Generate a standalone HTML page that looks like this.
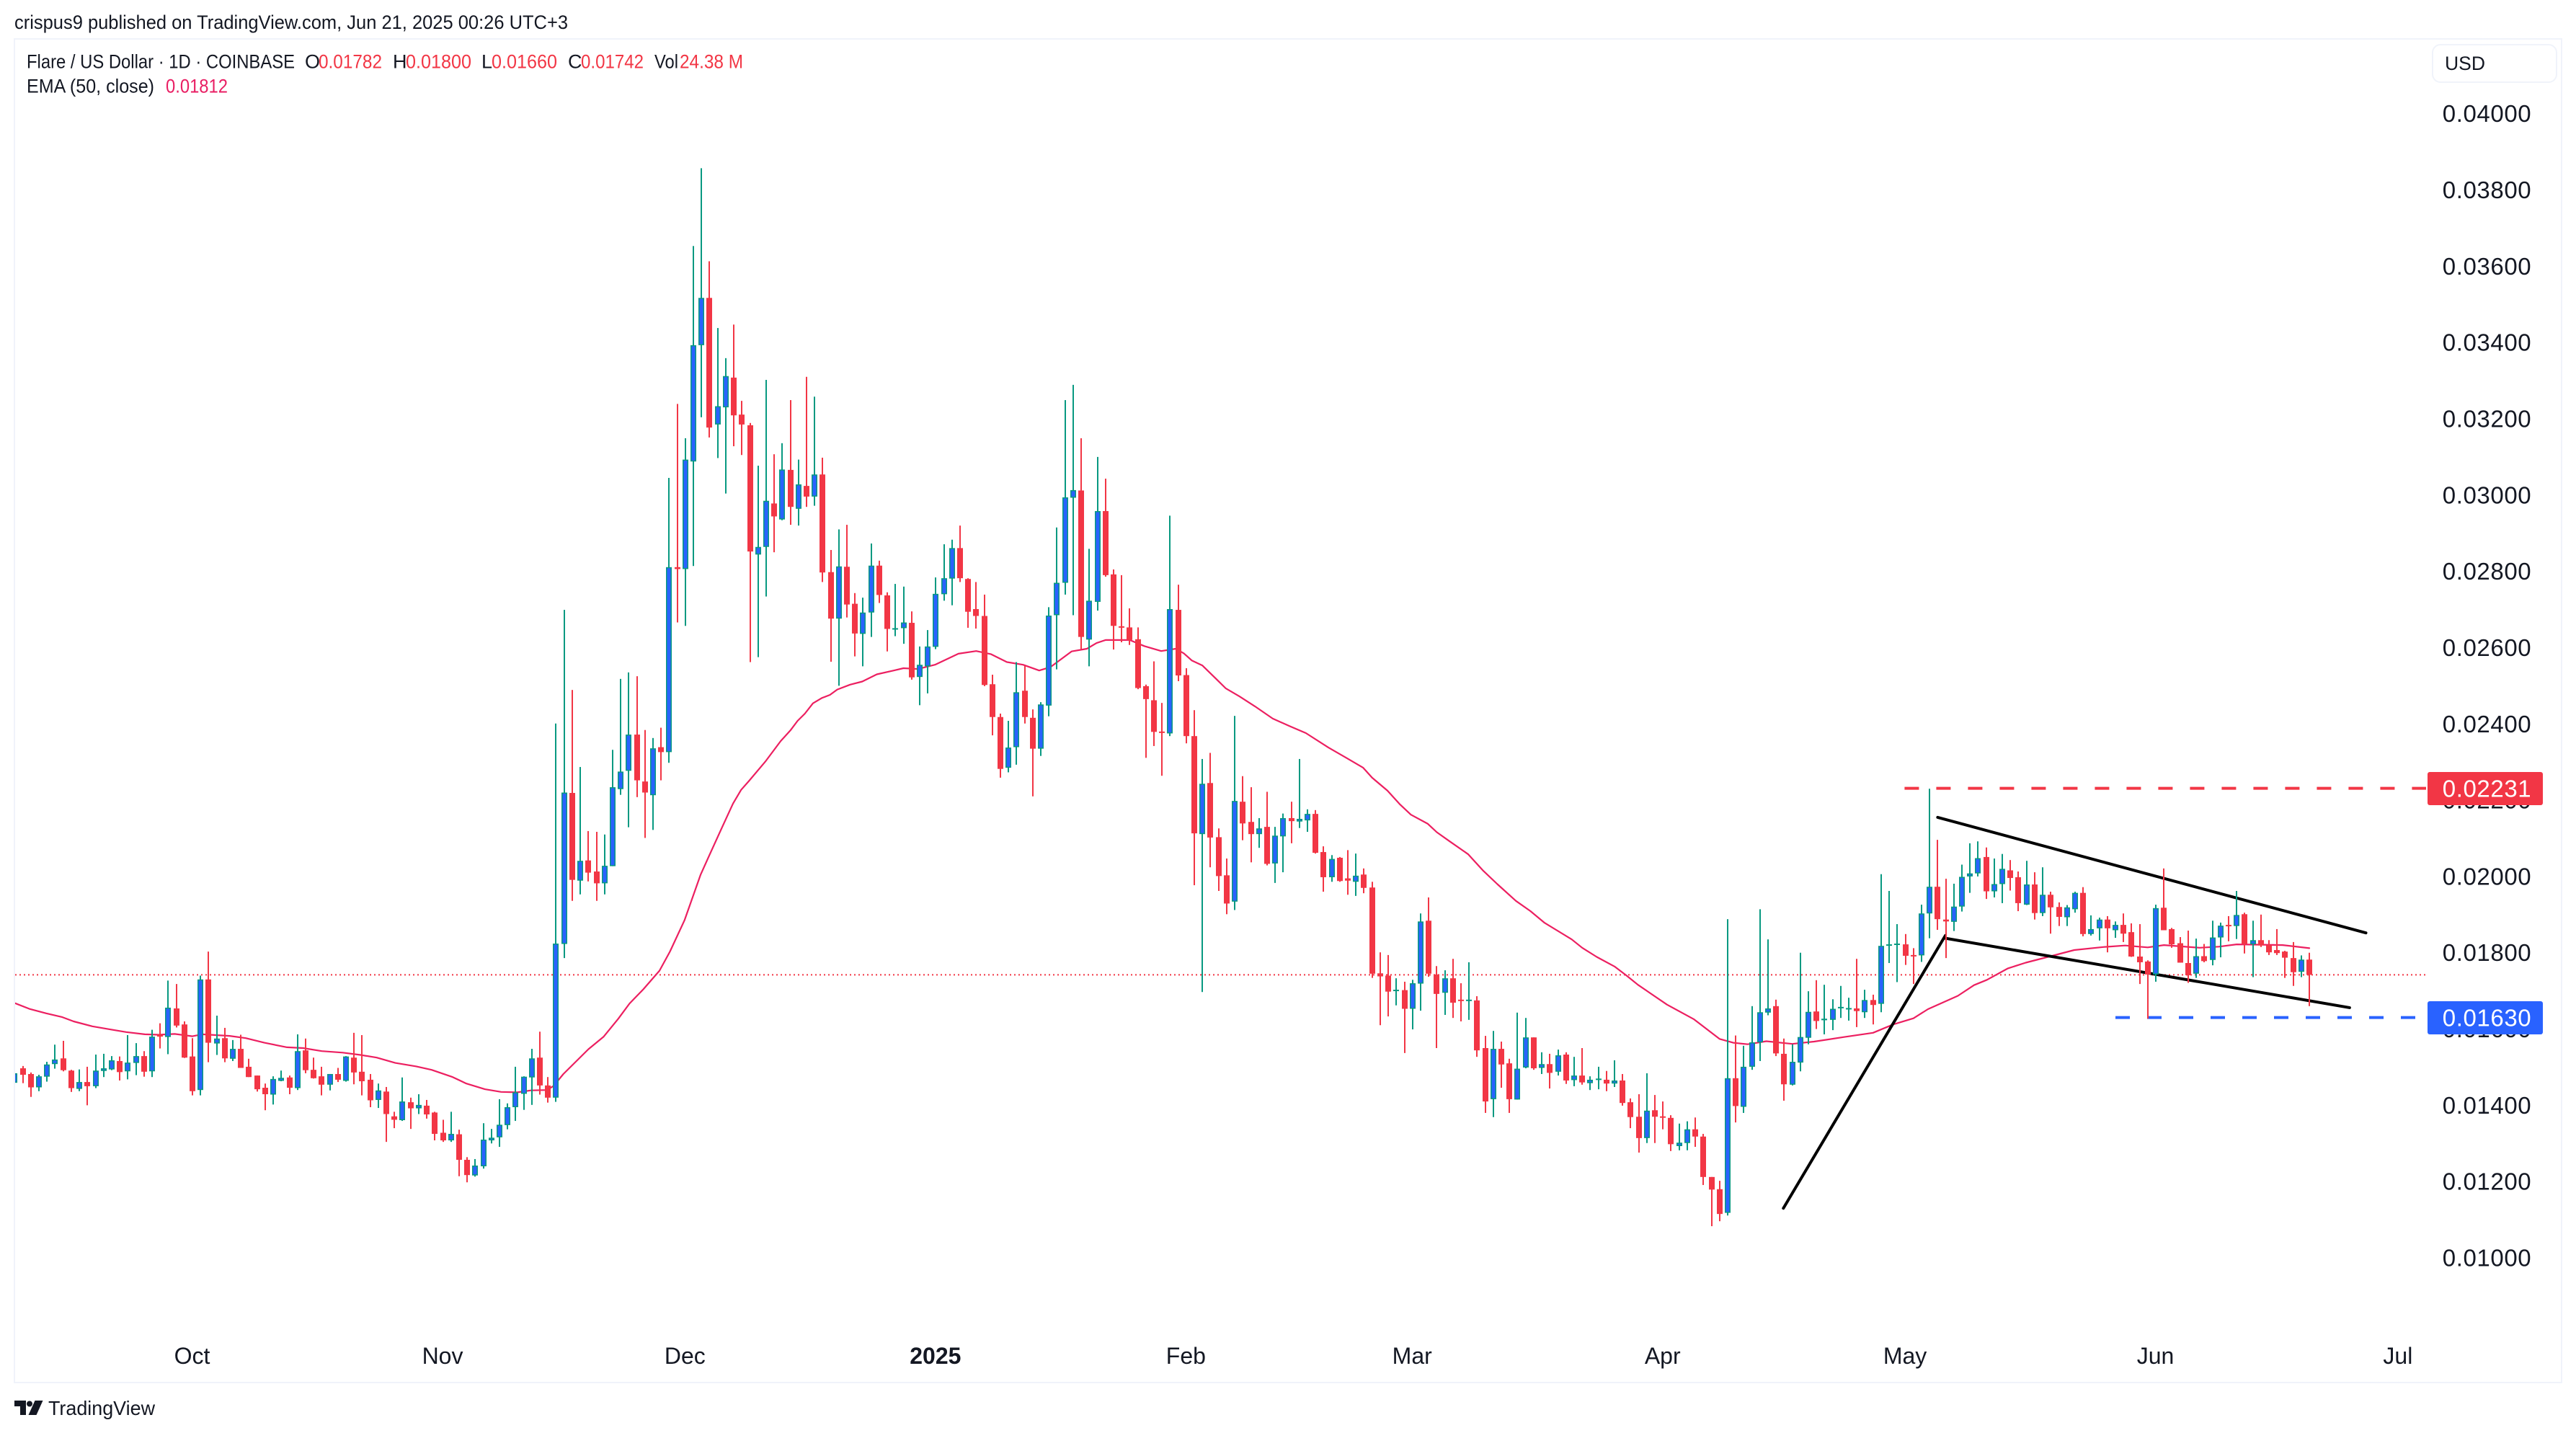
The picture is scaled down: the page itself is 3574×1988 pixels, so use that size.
<!DOCTYPE html>
<html lang="en">
<head>
<meta charset="utf-8">
<title>Flare / US Dollar 1D chart</title>
<style>
html,body{margin:0;padding:0;background:#fff;width:3574px;height:1988px;overflow:hidden}
svg{display:block}
text{font-family:"Liberation Sans",sans-serif;fill:#131722}
</style>
</head>
<body>
<svg id="chart" xmlns="http://www.w3.org/2000/svg" width="3574" height="1988" viewBox="0 0 3574 1988">
  <rect x="0" y="0" width="3574" height="1988" fill="#ffffff"/>
  <text x="20" y="40" font-size="27" textLength="768" lengthAdjust="spacingAndGlyphs">crispus9 published on TradingView.com, Jun 21, 2025 00:26 UTC+3</text>
  <rect x="20" y="54" width="3534" height="1864" fill="none" stroke="#f0f3fa" stroke-width="2"/>
  <clipPath id="pane-clip"><rect x="21" y="55" width="3532" height="1862"/></clipPath>

  <g id="price-axis"></g>
  <g id="time-axis"></g>

  <g clip-path="url(#pane-clip)">
    <g id="last-price-layer"></g>
    <g id="ema-layer"></g>
    <g id="drawing-layer"></g>
    <g id="candle-layer"></g>
  </g>

  <g>
    <text x="37" y="94.500" font-size="27" textLength="372" lengthAdjust="spacingAndGlyphs">Flare / US Dollar · 1D · COINBASE</text>
    <text x="423" y="94.500" font-size="27">O</text>
    <text x="442" y="94.500" font-size="27" style="fill:#f23645" textLength="88" lengthAdjust="spacingAndGlyphs">0.01782</text>
    <text x="545" y="94.500" font-size="27">H</text>
    <text x="563" y="94.500" font-size="27" style="fill:#f23645" textLength="91" lengthAdjust="spacingAndGlyphs">0.01800</text>
    <text x="668" y="94.500" font-size="27">L</text>
    <text x="682" y="94.500" font-size="27" style="fill:#f23645" textLength="91" lengthAdjust="spacingAndGlyphs">0.01660</text>
    <text x="788" y="94.500" font-size="27">C</text>
    <text x="806" y="94.500" font-size="27" style="fill:#f23645" textLength="87" lengthAdjust="spacingAndGlyphs">0.01742</text>
    <text x="908" y="94.500" font-size="27" textLength="33" lengthAdjust="spacingAndGlyphs">Vol</text>
    <text x="943" y="94.500" font-size="27" style="fill:#f23645" textLength="88" lengthAdjust="spacingAndGlyphs">24.38 M</text>
    <text x="37" y="128.500" font-size="27" textLength="177" lengthAdjust="spacingAndGlyphs">EMA (50, close)</text>
    <text x="230" y="128.500" font-size="27" style="fill:#e91e63" textLength="86" lengthAdjust="spacingAndGlyphs">0.01812</text>
  </g>

  <g>
    <rect x="3375" y="62" width="172" height="52" rx="11" fill="#ffffff" stroke="#f0f3fa" stroke-width="2"/>
    <text x="3392" y="97" font-size="26.5">USD</text>
  </g>

  <g>
    <path fill="#131722" d="M20 1943h16v20h-8v-12h-8z M59.500 1943h-11l-9 20h11z"/>
    <circle cx="41" cy="1947.500" r="4" fill="#131722"/>
    <text x="67" y="1963" font-size="28" font-weight="400" textLength="148" lengthAdjust="spacingAndGlyphs">TradingView</text>
  </g>
</svg>

<script>
/* Prices are stored in units of 0.00001 USD. Index 0 = Sep 9 2024, one entry per day. */
const opens = [
1459,1497,1482,1447,1475,1508,1523,1491,1443,1461,
1450,1490,1494,1516,1489,1511,1529,1489,1586,1579,
1654,1612,1528,1440,1730,1562,1576,1522,1548,1501,
1478,1446,1428,1464,1473,1445,1544,1493,1476,1454,
1482,1464,1525,1488,1467,1414,1436,1371,1361,1408,
1392,1399,1381,1328,1308,1324,1257,1216,1240,1308,
1316,1348,1395,1430,1473,1525,1452,1420,1823,2219,
1989,2042,2013,1982,2027,2229,2277,2372,2249,2213,
2339,2326,2811,2806,3088,3393,3517,3185,3230,3308,
3211,3183,2844,2864,2978,2936,3066,2964,3024,2996,
3054,2798,2676,2812,2715,2636,2692,2815,2737,2649,
2651,2665,2523,2551,2602,2740,2781,2861,2780,2701,
2683,2504,2418,2285,2339,2487,2416,2335,2448,2685,
2770,2993,3012,2621,2720,2958,2792,2656,2653,2622,
2499,2462,2380,2375,2699,2528,2368,2111,2245,2103,
2003,1934,2196,2143,2111,2130,2034,2105,2153,2144,
2147,2164,2064,1998,2049,1995,1986,2005,1971,1746,
1740,1701,1702,1653,1719,1884,1743,1695,1733,1677,
1674,1675,1550,1416,1548,1510,1415,1499,1578,1498,
1508,1488,1533,1466,1478,1458,1468,1467,1457,1465,
1408,1370,1314,1387,1371,1367,1293,1301,1337,1318,
1212,1180,1118,1471,1396,1501,1565,1643,1660,1535,
1454,1512,1577,1646,1623,1624,1655,1653,1654,1644,
1676,1666,1819,1821,1822,1794,1793,1903,1973,1887,
1881,1921,2000,2008,2051,1961,1980,2016,1998,1926,
1979,1904,1952,1920,1893,1914,1957,1849,1864,1887,
1859,1873,1854,1790,1777,1743,1918,1862,1825,1773,
1745,1791,1781,1840,1873,1870,1901,1822,1833,1820,
1807,1803,1786,1750,1782];
const highs = [
1494,1503,1486,1480,1514,1559,1569,1493,1494,1501,
1533,1535,1529,1528,1584,1563,1542,1598,1615,1727,
1718,1620,1576,1740,1803,1635,1603,1571,1585,1522,
1478,1457,1476,1491,1478,1586,1575,1525,1501,1482,
1498,1529,1590,1584,1482,1457,1448,1383,1473,1420,
1429,1414,1383,1362,1383,1336,1264,1259,1353,1338,
1416,1405,1501,1476,1548,1593,1474,2401,2699,2489,
2287,2119,2117,2110,2332,2518,2535,2525,2384,2363,
2390,3045,3239,3149,3653,3857,3613,3438,3359,3447,
3247,3189,3077,3302,3107,3136,3249,3093,3310,3258,
3098,2856,2910,2922,2743,2731,2873,2828,2745,2767,
2760,2695,2603,2646,2784,2871,2883,2920,2782,2772,
2739,2529,2427,2408,2562,2552,2438,2457,2706,2915,
3249,3289,3149,2859,3100,3043,2805,2790,2703,2653,
2503,2564,2455,2946,2765,2546,2436,2308,2324,2126,
2047,2421,2263,2234,2153,2222,2130,2165,2196,2308,
2176,2174,2079,2056,2051,2069,2060,2021,1986,1801,
1794,1733,1724,1729,1903,1945,1765,1754,1784,1720,
1775,1686,1582,1595,1567,1522,1643,1629,1578,1539,
1535,1546,1539,1527,1550,1476,1501,1490,1518,1482,
1418,1429,1484,1427,1410,1374,1352,1358,1368,1325,
1212,1202,1888,1583,1556,1660,1914,1835,1677,1575,
1560,1800,1699,1728,1716,1678,1713,1682,1784,1703,
1690,2006,1962,1875,1849,1812,1926,2230,2096,1994,
1981,2031,2087,2092,2076,2047,2059,2043,2013,2041,
2011,2024,1960,1932,1925,1960,1972,1898,1892,1896,
1882,1903,1877,1875,1780,1926,2021,1865,1841,1858,
1837,1823,1884,1879,1896,1962,1905,1884,1900,1833,
1862,1805,1828,1793,1800];
const lows = [
1441,1458,1422,1437,1462,1496,1489,1435,1437,1400,
1445,1474,1492,1465,1468,1479,1475,1474,1549,1534,
1604,1524,1426,1426,1513,1532,1513,1516,1498,1474,
1436,1387,1402,1463,1429,1440,1484,1470,1426,1439,
1461,1462,1455,1426,1395,1393,1304,1340,1359,1338,
1377,1365,1308,1304,1304,1214,1198,1213,1234,1300,
1291,1337,1359,1388,1401,1428,1407,1409,1786,1936,
1953,1987,1936,1953,2027,2214,2129,2208,2101,2122,
2252,2298,2666,2657,2814,3204,3151,3097,3004,3128,
3105,2562,2575,2734,2850,2934,2922,2920,2969,2972,
2772,2563,2500,2679,2577,2551,2628,2717,2590,2630,
2610,2516,2449,2480,2596,2723,2711,2772,2652,2650,
2499,2370,2259,2273,2293,2401,2210,2316,2420,2543,
2739,2685,2596,2551,2697,2786,2595,2614,2607,2491,
2311,2342,2264,2368,2512,2349,1977,1697,2024,1962,
1901,1912,2095,2037,2075,2029,1983,2011,2087,2127,
2117,2060,1960,1986,1986,1952,1949,1956,1734,1610,
1633,1662,1537,1599,1648,1737,1550,1637,1629,1620,
1624,1527,1380,1369,1446,1380,1415,1497,1493,1482,
1444,1478,1456,1450,1454,1440,1442,1437,1448,1399,
1340,1276,1301,1301,1337,1280,1282,1282,1291,1191,
1083,1096,1111,1355,1380,1493,1516,1636,1529,1412,
1452,1489,1560,1600,1586,1597,1629,1622,1605,1629,
1612,1644,1773,1723,1768,1718,1776,1838,1860,1786,
1857,1908,1957,2000,1941,1945,1930,1963,1909,1925,
1887,1896,1850,1870,1870,1905,1843,1845,1832,1801,
1839,1828,1789,1718,1627,1724,1859,1813,1774,1721,
1734,1775,1767,1788,1830,1836,1798,1736,1815,1794,
1794,1734,1713,1736,1660];
const closes = [
1484,1480,1447,1476,1507,1520,1492,1445,1461,1450,
1491,1497,1518,1487,1512,1529,1488,1580,1580,1656,
1609,1525,1437,1730,1564,1575,1523,1548,1498,1474,
1442,1429,1469,1472,1446,1542,1492,1471,1454,1482,
1467,1528,1486,1463,1413,1439,1377,1362,1410,1392,
1401,1376,1325,1308,1325,1257,1217,1242,1310,1315,
1349,1395,1434,1475,1523,1452,1420,1824,2220,1991,
2041,2010,1982,2028,2234,2275,2372,2252,2220,2336,
2326,2811,2806,3093,3393,3517,3177,3233,3312,3209,
3185,2852,2864,2985,2944,3067,2969,3028,2996,3054,
2797,2676,2813,2713,2637,2692,2815,2738,2649,2651,
2666,2522,2555,2603,2741,2782,2861,2782,2694,2683,
2502,2418,2282,2338,2483,2418,2335,2451,2684,2770,
2994,3013,2628,2723,2958,2790,2657,2653,2620,2494,
2465,2379,2378,2701,2527,2368,2113,2243,2102,2001,
1929,2198,2139,2111,2126,2033,2107,2153,2145,2151,
2164,2062,1998,2046,1988,1989,2002,1970,1745,1738,
1698,1703,1653,1720,1882,1745,1692,1733,1669,1674,
1677,1544,1410,1548,1507,1416,1496,1578,1497,1508,
1485,1531,1465,1478,1460,1467,1470,1457,1465,1406,
1369,1314,1386,1370,1368,1298,1302,1337,1318,1212,
1179,1115,1471,1398,1501,1565,1644,1654,1536,1455,
1514,1579,1645,1621,1627,1653,1658,1655,1647,1676,
1663,1818,1822,1824,1792,1791,1903,1973,1888,1882,
1921,1999,2008,2048,1961,1980,2020,1996,1930,1979,
1904,1952,1919,1894,1919,1957,1849,1862,1887,1864,
1873,1850,1790,1775,1743,1917,1859,1822,1774,1741,
1791,1778,1840,1871,1870,1899,1823,1833,1819,1801,
1799,1787,1749,1782,1742];

/* EMA(50): day index and value pairs */
const emaDays = [0,1.8,3.9,5.9,7.3,9.6,11.8,13.8,16.1,17.8,19.8,22,23.2,26.6,28.6,30.9,33.7,35.7,38,40.6,42.8,44.8,47.1,49.7,51.6,54.2,55.9,58.2,60.2,62.2,63.9,65.9,66.7,67.9,71,72.9,74.7,76.1,77.8,79.8,81.1,82.9,84.9,85.9,87.4,88.9,89.9,90.9,92.9,94.8,96,96.9,97.8,98.8,99.9,100.9,101.8,103.4,104.9,106.7,108.8,110,111.8,113.9,116.8,119,120.8,122.8,124.8,126.8,128.2,130.8,132.7,133.9,135,138,139.8,141.9,143.7,144.7,145.7,147,148.7,149.9,151.6,153.5,155.7,157.8,159.8,162.6,164.8,166.9,168,169.9,171.4,172.8,174.9,176,177.6,179.9,181.7,183.5,185.8,187.6,189.3,192.7,194,195.8,198,199.5,200.9,204.5,207.8,211,212.7,214.5,216.8,220,222.7,226.4,230,232.5,235,236.8,238.7,240.5,242.5,244.1,246.7,248.9,252,254.9,258.5,261.2,264,266,270.4,272.8,275,278.3,280.7,284];
const emaValues = [1668,1653,1641,1631,1620,1607,1599,1592,1586,1585,1587,1581,1586,1582,1576,1564,1552,1550,1542,1538,1532,1525,1511,1502,1493,1474,1457,1442,1435,1434,1439,1440,1451,1482,1547,1580,1627,1667,1704,1753,1803,1885,2005,2052,2122,2191,2227,2251,2301,2355,2383,2408,2427,2454,2468,2476,2490,2503,2511,2530,2540,2546,2544,2555,2584,2591,2583,2562,2555,2540,2549,2590,2597,2612,2620,2620,2604,2591,2597,2585,2566,2553,2518,2493,2472,2446,2414,2394,2376,2338,2311,2285,2259,2225,2190,2162,2138,2116,2092,2058,2016,1980,1936,1909,1879,1835,1813,1789,1764,1740,1716,1664,1626,1574,1564,1560,1568,1561,1567,1579,1590,1612,1628,1652,1670,1687,1715,1729,1759,1774,1791,1807,1815,1819,1814,1820,1813,1816,1822,1821,1820,1812];

const priceTicks = [4000,3800,3600,3400,3200,3000,2800,2600,2400,2200,2000,1800,1600,1400,1200,1000];
const priceTickLabels = ["0.04000","0.03800","0.03600","0.03400","0.03200","0.03000","0.02800","0.02600","0.02400","0.02200","0.02000","0.01800","0.01600","0.01400","0.01200","0.01000"];
const timeTickDays = [22,53,83,114,145,173,204,234,265,295];
const timeTickLabels = ["Oct","Nov","Dec","2025","Feb","Mar","Apr","May","Jun","Jul"];

const lastPrice = 1742;
const resistancePrice = 2231;
const supportPrice = 1630;
const resistanceStartDay = 233.9;
const supportStartDay = 260;
const poleDays = [218.9, 238.95];
const polePrices = [1130, 1845];
const flagLowerDays = [238.95, 288.98];
const flagLowerPrices = [1838, 1656];
const flagUpperDays = [238, 291];
const flagUpperPrices = [2155, 1852];

const SVGNS = 'http://www.w3.org/2000/svg';
const xAt = function (day) { return 20.4 + day * 11.21; };
const yAt = function (price) { return 157.7 + (4000 - price) * 0.5291; };
const make = function (tag, parent, attrs) {
  const el = document.createElementNS(SVGNS, tag);
  for (const k in attrs) { el.setAttribute(k, attrs[k]); }
  parent.appendChild(el);
  return el;
};

/* price axis */
const priceAxis = document.getElementById('price-axis');
priceTicks.forEach(function (p, i) {
  const t = make('text', priceAxis, { x: 3450.5, y: yAt(p) + 11.5, 'font-size': 33, 'text-anchor': 'middle', 'letter-spacing': '0.6' });
  
  
  t.textContent = priceTickLabels[i];
});

/* time axis */
const timeAxis = document.getElementById('time-axis');
timeTickDays.forEach(function (d, i) {
  const t = make('text', timeAxis, { x: xAt(d) - 0.5, y: 1892, 'font-size': 32, 'text-anchor': 'middle' });
  
  
  if (timeTickLabels[i] === '2025') { t.setAttribute('font-weight', '700'); }
  t.textContent = timeTickLabels[i];
});

/* last price dotted line */
const lastLayer = document.getElementById('last-price-layer');
const lastLine = make('line', lastLayer, { x1: 21, x2: 3366, y1: yAt(lastPrice), y2: yAt(lastPrice), stroke: '#f23645', 'stroke-width': 2, 'stroke-dasharray': '2 4' });



/* EMA line */
const emaLayer = document.getElementById('ema-layer');
const emaPts = emaDays.map(function (d, i) { return xAt(d).toFixed(1) + ',' + yAt(emaValues[i]).toFixed(1); }).join(' ');
const emaLine = make('polyline', emaLayer, { points: emaPts, fill: 'none', stroke: '#ec1f60', 'stroke-width': 2.2, 'stroke-linejoin': 'round', 'stroke-linecap': 'round' });



/* drawings */
const drawLayer = document.getElementById('drawing-layer');
const pole = make('line', drawLayer, { x1: xAt(poleDays[0]), y1: yAt(polePrices[0]), x2: xAt(poleDays[1]), y2: yAt(polePrices[1]), stroke: '#000', 'stroke-width': 4, 'stroke-linecap': 'round' });


const lower = make('line', drawLayer, { x1: xAt(flagLowerDays[0]), y1: yAt(flagLowerPrices[0]), x2: xAt(flagLowerDays[1]), y2: yAt(flagLowerPrices[1]), stroke: '#000', 'stroke-width': 4, 'stroke-linecap': 'round' });


const upper = make('line', drawLayer, { x1: xAt(flagUpperDays[0]), y1: yAt(flagUpperPrices[0]), x2: xAt(flagUpperDays[1]), y2: yAt(flagUpperPrices[1]), stroke: '#000', 'stroke-width': 4, 'stroke-linecap': 'round' });


const resist = make('line', drawLayer, { x1: xAt(resistanceStartDay), x2: 3366, y1: yAt(resistancePrice), y2: yAt(resistancePrice), stroke: '#f23645', 'stroke-width': 4, 'stroke-dasharray': '20 24' });


const support = make('line', drawLayer, { x1: xAt(supportStartDay), x2: 3352, y1: yAt(supportPrice), y2: yAt(supportPrice), stroke: '#2962ff', 'stroke-width': 4, 'stroke-dasharray': '20 24' });



/* candles */
const candleLayer = document.getElementById('candle-layer');
const GREEN = '#089981', RED = '#f23645', BLUE = '#2962ff';
opens.forEach(function (o, i) {
  const c = closes[i];
  const up = c >= o;
  const color = up ? GREEN : RED;
  const cx = Math.round(xAt(i));
  const g = make('g', candleLayer, {});
  
  
  const yH = yAt(highs[i]), yL = yAt(lows[i]);
  const wick = make('rect', g, { x: cx - 1, y: yH, width: 2, height: Math.max(yL - yH, 1), fill: color });
  
  
  const top = yAt(Math.max(o, c));
  const h = Math.max(yAt(Math.min(o, c)) - top, 2);
  const body = make('rect', g, { x: cx - 4, y: top, width: 8, height: h, fill: color });
  
  
  if (up && h > 3) {
    const inner = make('rect', g, { x: cx - 2.5, y: top + 1.5, width: 5, height: h - 3, fill: BLUE });
    
    
  }
});
</script>

<svg xmlns="http://www.w3.org/2000/svg" width="3574" height="1988" viewBox="0 0 3574 1988" style="position:absolute;left:0;top:0;pointer-events:none">
  <g>
    <rect x="3368" y="1071" width="160" height="46" rx="3" fill="#f23645"/>
    <text x="3450.5" y="1105.500" font-size="33" text-anchor="middle" letter-spacing="0.6" style="fill:#ffffff">0.02231</text>
  </g>
  <g>
    <rect x="3368" y="1389" width="160" height="46" rx="3" fill="#2962ff"/>
    <text x="3450.5" y="1423.500" font-size="33" text-anchor="middle" letter-spacing="0.6" style="fill:#ffffff">0.01630</text>
  </g>
</svg>
</body>
</html>
